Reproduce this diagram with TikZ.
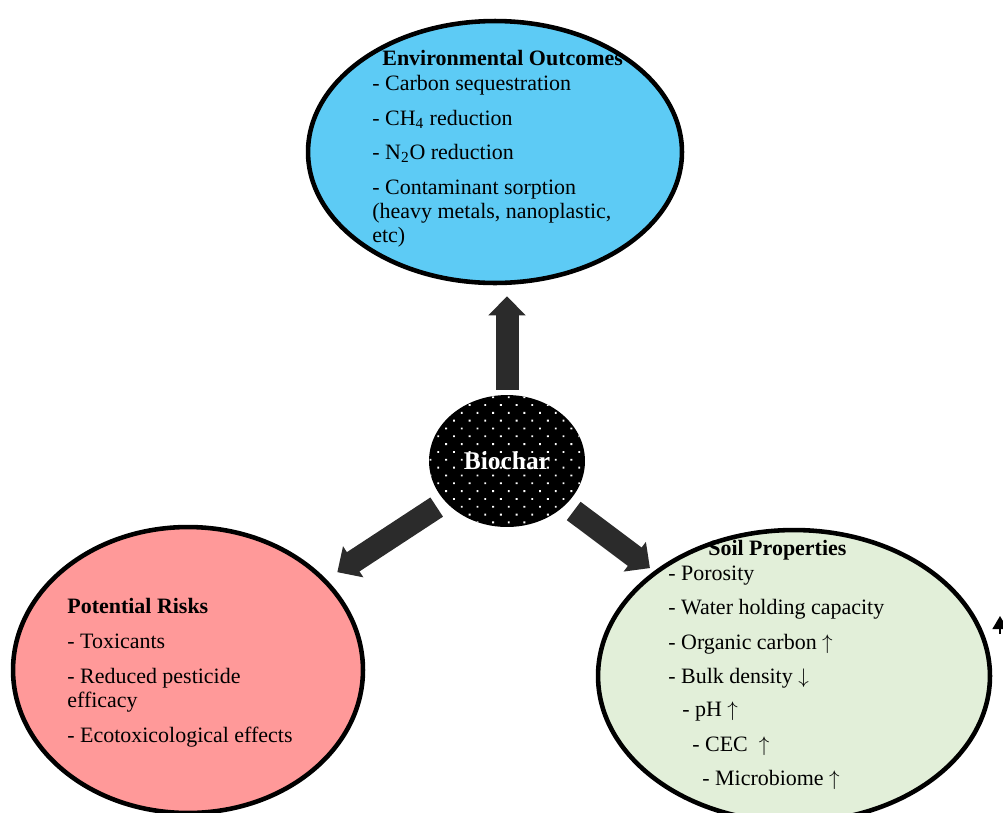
\documentclass[tikz,border=0pt]{standalone}
\usepackage{fontspec}
\setmainfont{Liberation Serif}
\usetikzlibrary{shapes.geometric,arrows.meta,patterns.meta}
\definecolor{envblue}{RGB}{93,203,245}
\definecolor{riskred}{RGB}{255,153,153}
\definecolor{soilgreen}{RGB}{226,239,217}
\definecolor{arrowgray}{RGB}{43,43,43}
\tikzset{
  bubble/.style={ellipse, draw=black, line width=2.6pt, inner sep=0pt},
  bigarrow/.style={draw=arrowgray, line width=0.46cm, -{Triangle[length=0.38cm,width=0.72cm]}},
  itemtext/.style={anchor=north west, align=left, inner sep=0pt, font=\fontsize{12.5pt}{13.66pt}\selectfont}
}
\begin{document}
\begin{tikzpicture}[x=0.02cm,y=-0.02cm]
    \path[use as bounding box, clip] (0,0) rectangle (1003,812);
    % bubbles
    \node[bubble, fill=envblue, minimum width=7.48cm, minimum height=5.24cm] (env) at (495,152) {};
    \node[bubble, fill=riskred, minimum width=7.0cm, minimum height=5.72cm] (risk) at (188,670) {};
    \node[bubble, fill=soilgreen, minimum width=7.84cm, minimum height=5.84cm] (soil) at (794,676) {};
    % biochar in the middle
    \node[ellipse, fill=black, minimum width=3.12cm, minimum height=2.64cm, inner sep=0pt,
      postaction={pattern={Dots[distance=6.3pt,angle=45,radius=0.75pt]}, pattern color=white},
      text=white, font=\fontsize{14.5pt}{16pt}\selectfont\bfseries] (biochar) at (507,461) {Biochar};
    % arrows
    \draw[bigarrow, shorten <=0.1cm, shorten >=0.22cm] (biochar.north) -- (biochar.north |- env.south);
    \draw[bigarrow, shorten <=0.2cm, shorten >=0.26cm] (biochar) -- (risk);
    \draw[bigarrow, shorten <=0.2cm, shorten >=0.1cm] (biochar) -- (soil);
    % texts
    \node[itemtext] (envtext) at (372,50) {\hspace*{0.2cm}\textbf{Environmental Outcomes}\\[0.6pt]
      - Carbon sequestration\\[6pt]
      - CH\textsubscript{4} reduction\\[6pt]
      - N\textsubscript{2}O reduction\\[6pt]
      - Contaminant sorption\\
      (heavy metals, nanoplastic,\\
      etc)};
    \node[itemtext] (risktext) at (67,598) {\textbf{Potential Risks}\\[6.3pt]
      - Toxicants\\[6.3pt]
      - Reduced pesticide\\
      efficacy\\[6.3pt]
      - Ecotoxicological effects};
    \node[itemtext] (soiltext) at (668,540) {\hspace*{0.8cm}\textbf{Soil Properties}\\[0.3pt]
      - Porosity\\[6pt]
      - Water holding capacity\\[6pt]
      - Organic carbon $\uparrow$\\[6pt]
      - Bulk density $\downarrow$\\[5pt]
      \hspace*{0.28cm}- pH $\uparrow$\\[6pt]
      \hspace*{0.48cm}- CEC\ \ $\uparrow$\\[6pt]
      \hspace*{0.68cm}- Microbiome $\uparrow$};
    % small arrow at the edge
    \coordinate (stubbase) at (1000,634);
    \coordinate (stubtip) at (1000,616);
    \draw[-{Triangle[length=0.26cm,width=0.3cm]}, line width=0.8pt] (stubbase) -- (stubtip);
\end{tikzpicture}
\end{document}
